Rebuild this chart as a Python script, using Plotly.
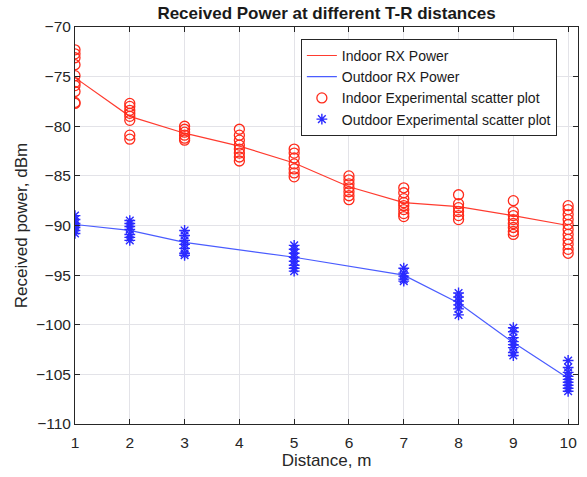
import plotly.graph_objects as go

distances = [1, 2, 3, 4, 5, 6, 7, 8, 9, 10]
indoor_model = [-75.1, -79.0, -80.7, -82.0, -83.7, -86.1, -87.7, -88.1, -89.0, -90.0]

outdoor_dist = [1, 2, 3, 5, 7, 8, 9, 10]
outdoor_model = [-89.9, -90.5, -91.7, -93.2, -95.0, -97.8, -101.8, -105.4]

indoor_samples = {
    1: [-72.3, -72.7, -73.1, -73.8, -74.9, -75.6, -75.9, -76.5, -77.6, -77.7],
    2: [-77.7, -78.0, -78.4, -78.7, -79.0, -79.4, -80.9, -81.3],
    3: [-80.0, -80.3, -80.6, -80.9, -81.2, -81.4],
    4: [-80.3, -80.9, -81.4, -81.9, -82.3, -82.7, -83.1, -83.5],
    5: [-82.3, -82.7, -83.2, -83.8, -84.3, -84.7, -85.1],
    6: [-85.0, -85.4, -85.8, -86.2, -86.6, -87.0, -87.4],
    7: [-86.2, -86.7, -87.3, -87.7, -88.0, -88.4, -88.8, -89.1],
    8: [-86.9, -87.8, -88.2, -88.6, -89.0, -89.4],
    9: [-87.5, -88.6, -89.0, -89.4, -89.8, -90.2, -90.6, -90.9],
    10: [-88.0, -88.4, -88.9, -89.4, -89.9, -90.4, -90.9, -91.4, -91.9, -92.4, -92.8],
}
outdoor_samples = {
    1: [-89.0, -89.4, -89.8, -90.0, -90.2, -90.5, -90.8],
    2: [-89.5, -89.8, -90.1, -90.4, -90.9, -91.2, -91.5],
    3: [-90.5, -91.0, -91.5, -91.9, -92.3, -92.8, -93.0],
    5: [-92.0, -92.4, -92.8, -93.2, -93.6, -94.0, -94.3, -94.6],
    7: [-94.3, -94.8, -95.1, -95.4, -95.6],
    8: [-96.8, -97.2, -97.6, -98.0, -98.4, -99.0],
    9: [-100.3, -100.7, -101.3, -101.7, -102.0, -102.3, -102.8, -103.1],
    10: [-103.6, -104.3, -104.8, -105.2, -105.5, -105.8, -106.1, -106.4, -106.7],
}

ix, iy = [], []
for d, vals in indoor_samples.items():
    ix += [d] * len(vals)
    iy += vals
ox, oy = [], []
for d, vals in outdoor_samples.items():
    ox += [d] * len(vals)
    oy += vals

RED = "#ff2a1a"
BLUE = "#2a2aff"

fig = go.Figure()
fig.add_trace(go.Scatter(x=distances, y=indoor_model, mode="lines",
                         line=dict(color="#ff3b2f", width=1.2), name="Indoor RX Power"))
fig.add_trace(go.Scatter(x=outdoor_dist, y=outdoor_model, mode="lines",
                         line=dict(color="#4a5cff", width=1.2), name="Outdoor RX Power"))
fig.add_trace(go.Scatter(x=ix, y=iy, mode="markers",
                         marker=dict(symbol="circle-open", size=10, color=RED,
                                     line=dict(width=1.3, color=RED)),
                         name="Indoor Experimental scatter plot"))
fig.add_trace(go.Scatter(x=ox, y=oy, mode="markers",
                         marker=dict(symbol="asterisk-open", size=9, color=BLUE,
                                     line=dict(width=1.4, color=BLUE)),
                         name="Outdoor Experimental scatter plot"))

axis_common = dict(showgrid=True, gridcolor="#e3e3e8", gridwidth=1,
                   showline=True, linecolor="#262626", linewidth=1,
                   mirror="ticks", ticks="inside", ticklen=5, tickcolor="#262626",
                   zeroline=False, automargin=False,
                   tickfont=dict(size=15.5, color="#262626"))

fig.update_layout(
    width=587, height=477,
    paper_bgcolor="white", plot_bgcolor="white",
    margin=dict(l=75, r=9, t=27, b=53, autoexpand=False),
    font=dict(family="Liberation Sans, Arial, sans-serif", color="#262626"),
    title=dict(text="<b>Received Power at different T-R distances</b>",
               x=0.5, xref="paper", xanchor="center", y=1 - 13 / 477, yref="container",
               yanchor="middle", font=dict(size=17, color="#1a1a1a")),
    xaxis=dict(range=[1, 10.18], tickvals=distances, ticklabelstandoff=4,
               title=dict(text="Distance, m", font=dict(size=17), standoff=4),
               **axis_common),
    yaxis=dict(range=[-110, -70], tickvals=[-110, -105, -100, -95, -90, -85, -80, -75, -70],
               title=dict(text="Received power, dBm", font=dict(size=17), standoff=4),
               **axis_common),
    legend=dict(x=0.958, y=0.97, xanchor="right", yanchor="top",
                bgcolor="white", bordercolor="#262626", borderwidth=1,
                font=dict(size=14, color="#1a1a1a"), tracegroupgap=0),
    showlegend=True,
)

fig.write_html("out.html", config={"displayModeBar": False},
               post_script="document.body.style.margin='0';")
